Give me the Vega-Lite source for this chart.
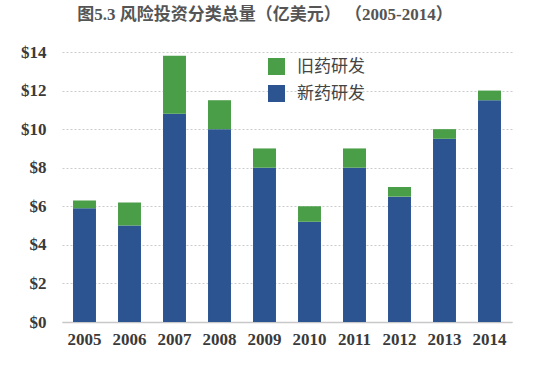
{
  "$schema": "https://vega.github.io/schema/vega-lite/v6.json",
  "width": 450,
  "height": 270,
  "autosize": {"type": "none"},
  "padding": {"left": 62, "top": 52, "right": 48, "bottom": 46},
  "background": "white",
  "title": {
    "text": "图5.3 风险投资分类总量（亿美元） （2005-2014）",
    "font": "Liberation Serif, Noto Sans CJK SC",
    "fontSize": 17,
    "fontWeight": "bold",
    "color": "#555555",
    "dx": -22,
    "offset": 19
  },
  "data": {
    "values": [
      {"year": "2005", "type": "新药研发", "value": 5.9},
      {"year": "2005", "type": "旧药研发", "value": 0.4},
      {"year": "2006", "type": "新药研发", "value": 5.0},
      {"year": "2006", "type": "旧药研发", "value": 1.2},
      {"year": "2007", "type": "新药研发", "value": 10.8},
      {"year": "2007", "type": "旧药研发", "value": 3.0},
      {"year": "2008", "type": "新药研发", "value": 10.0},
      {"year": "2008", "type": "旧药研发", "value": 1.5},
      {"year": "2009", "type": "新药研发", "value": 8.0},
      {"year": "2009", "type": "旧药研发", "value": 1.0},
      {"year": "2010", "type": "新药研发", "value": 5.2},
      {"year": "2010", "type": "旧药研发", "value": 0.8},
      {"year": "2011", "type": "新药研发", "value": 8.0},
      {"year": "2011", "type": "旧药研发", "value": 1.0},
      {"year": "2012", "type": "新药研发", "value": 6.5},
      {"year": "2012", "type": "旧药研发", "value": 0.5},
      {"year": "2013", "type": "新药研发", "value": 9.5},
      {"year": "2013", "type": "旧药研发", "value": 0.5},
      {"year": "2014", "type": "新药研发", "value": 11.5},
      {"year": "2014", "type": "旧药研发", "value": 0.5}
    ]
  },
  "mark": {"type": "bar"},
  "encoding": {
    "x": {
      "field": "year",
      "type": "ordinal",
      "scale": {"paddingInner": 0.49, "paddingOuter": 0.245},
      "axis": {
        "title": null,
        "labelAngle": 0,
        "labelFont": "Liberation Serif",
        "labelFontSize": 17,
        "labelFontWeight": "bold",
        "labelColor": "#3a3a3a",
        "labelPadding": 9,
        "ticks": false,
        "domainColor": "#c8c8c8",
        "domainWidth": 1.5
      }
    },
    "y": {
      "field": "value",
      "type": "quantitative",
      "stack": "zero",
      "scale": {"domain": [0, 14], "nice": false},
      "axis": {
        "title": null,
        "values": [0, 2, 4, 6, 8, 10, 12, 14],
        "labelExpr": "'$' + datum.value",
        "labelFont": "Liberation Serif",
        "labelFontSize": 17,
        "labelFontWeight": "bold",
        "labelColor": "#3a3a3a",
        "labelPadding": 16,
        "ticks": false,
        "domain": false,
        "grid": true,
        "gridColor": "#cccccc",
        "gridDash": [2, 2],
        "gridWidth": 1
      }
    },
    "color": {
      "field": "type",
      "type": "nominal",
      "scale": {"domain": ["旧药研发", "新药研发"], "range": ["#4a9e47", "#2b5491"]},
      "legend": {
        "title": null,
        "orient": "none",
        "legendX": 206,
        "legendY": 6,
        "symbolType": "square",
        "symbolSize": 289,
        "symbolStrokeWidth": 0,
        "symbolOpacity": 1,
        "labelFont": "Noto Sans CJK SC",
        "labelFontSize": 17,
        "labelColor": "#444444",
        "labelOffset": 12,
        "rowPadding": 9
      }
    },
    "order": {"field": "type", "sort": "ascending"}
  },
  "config": {"view": {"stroke": null}}
}
